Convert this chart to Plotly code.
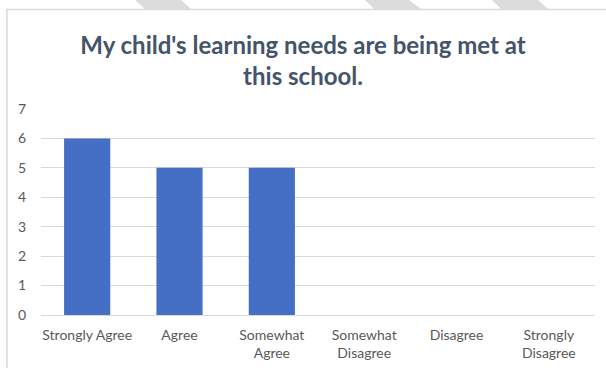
import plotly.graph_objects as go

categories = ["Strongly Agree", "Agree", "Somewhat<br>Agree", "Somewhat<br>Disagree", "Disagree", "Strongly<br>Disagree"]
values = [6, 5, 5, 0, 0, 0]
y_ticks = [0, 1, 2, 3, 4, 5, 6, 7]

W, H = 606, 368
L, R, T, B = 41, 595, 109, 315

def px(x):
    return (x - L) / (R - L)

def py(y):
    return (B - y) / (B - T)

fig = go.Figure()
fig.add_trace(go.Bar(x=categories, y=values, marker=dict(color="#456FC4", line=dict(width=0)), width=0.5))

shapes = []
# decorative stripes at top
for (a0, a1, b0, b1) in [(135, 181, 145, 191), (365, 409, 374, 421), (492, 538, 501, 548)]:
    path = f"M {px(a0)} {py(0)} L {px(a1)} {py(0)} L {px(b1)} {py(9)} L {px(b0)} {py(9)} Z"
    shapes.append(dict(type="path", xref="paper", yref="paper", path=path,
                       fillcolor="#DCDCDC", line=dict(width=0), layer="below"))
# border lines
shapes.append(dict(type="line", xref="paper", yref="paper", x0=px(6), x1=px(606), y0=py(9.5), y1=py(9.5),
                   line=dict(color="#D9D9D9", width=1.5)))
shapes.append(dict(type="line", xref="paper", yref="paper", x0=px(7), x1=px(7), y0=py(9.5), y1=py(368),
                   line=dict(color="#D9D9D9", width=1.5)))

fig.update_layout(
    width=W, height=H,
    margin=dict(l=L, r=W - R, t=T, b=H - B, pad=0, autoexpand=False),
    paper_bgcolor="white", plot_bgcolor="white",
    showlegend=False,
    shapes=shapes,
    title=dict(text="<b>My child's learning needs are being met at<br>this school.</b>",
               x=0.5, xanchor="center", xref="container",
               y=1 - 54 / H, yanchor="middle", yref="container",
               font=dict(family="Lato", size=24, color="#44546A")),
    font=dict(family="Lato", size=14, color="#595959"),
    bargap=0.5,
    xaxis=dict(showgrid=False, showline=False, zeroline=False, ticks="",
               ticklabelstandoff=10, automargin=False,
               tickfont=dict(size=14, color="#595959"), fixedrange=True),
    yaxis=dict(range=[0, 7], tickvals=y_ticks, showgrid=True, gridcolor="#D9D9D9", gridwidth=1,
               zeroline=True, zerolinecolor="#D9D9D9", zerolinewidth=1, showline=False, ticks="",
               ticklabelstandoff=14, automargin=False,
               tickfont=dict(size=14, color="#595959"), fixedrange=True),
)

fig.write_html("out.html", config={"displayModeBar": False},
               post_script="document.body.style.margin='0';")
